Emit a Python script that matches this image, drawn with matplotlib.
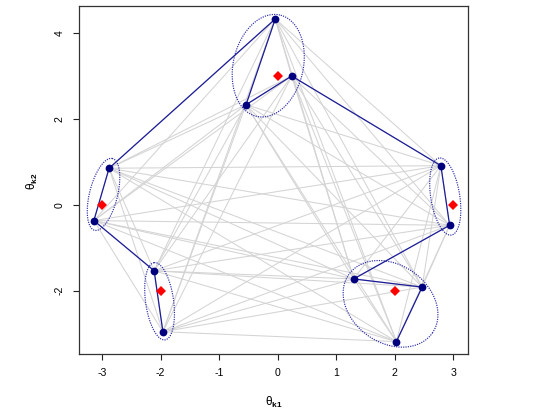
import itertools

import matplotlib
matplotlib.use("Agg")
import matplotlib.pyplot as plt
import numpy as np

plt.rcParams['font.family'] = ['Liberation Sans', 'DejaVu Sans']
plt.rcParams['axes.unicode_minus'] = False
plt.rcParams['mathtext.fontset'] = 'custom'
plt.rcParams['mathtext.rm'] = 'Liberation Sans'
plt.rcParams['mathtext.it'] = 'Liberation Sans:italic'
plt.rcParams['mathtext.bf'] = 'Liberation Sans:bold'

# latent positions of the 12 actors
node_x = [-0.04, 0.24, -0.54, 2.79, 2.94, 1.30, 2.47, 2.03, -2.11, -1.96, -2.88, -3.14]
node_y = [4.33, 3.00, 2.33, 0.91, -0.48, -1.73, -1.92, -3.19, -1.54, -2.96, 0.85, -0.37]

# path through the actors (blue edges)
path_order = [9, 8, 11, 10, 0, 2, 1, 3, 4, 5, 6, 7]

# cluster centres (red diamonds)
center_x = [0, 3, 2, -2, -3]
center_y = [3, 0, -2, -2, 0]

# cluster ellipses: centre in data units, semi-axes in pixels, tilt in degrees
ell_x = [-0.16, 2.865, 1.93, -2.017, -2.975]
ell_y = [3.24, 0.19, -2.31, -2.25, 0.24]
ell_a = [52, 39, 51, 39, 37]
ell_b = [35, 14.5, 39, 14, 14]
ell_ang = [77, 99, -35, 98, 76]

x_ticks = [-3, -2, -1, 0, 1, 2, 3]
y_ticks = [-2, 0, 2, 4]

fig = plt.figure(figsize=(5.54, 4.15), dpi=100)
ax = fig.add_axes([0.1435, 0.1458, 0.7004, 0.8397])

# R-style 4% padding around the data
all_x = np.array(node_x + center_x, dtype=float)
all_y = np.array(node_y + center_y, dtype=float)
rx = all_x.max() - all_x.min()
ry = all_y.max() - all_y.min()
ax.set_xlim(all_x.min() - 0.04 * rx, all_x.max() + 0.04 * rx)
ax.set_ylim(all_y.min() - 0.04 * ry, all_y.max() + 0.04 * ry)

# all pairs in light gray
for i, j in itertools.combinations(range(len(node_x)), 2):
    ax.plot([node_x[i], node_x[j]], [node_y[i], node_y[j]],
            color='#d4d4d4', linewidth=0.75, zorder=1, solid_capstyle='butt')

# ellipses drawn in pixel space so the tilt matches the picture
for cx, cy, a, b, ang in zip(ell_x, ell_y, ell_a, ell_b, ell_ang):
    t = np.linspace(0, 2 * np.pi, 300)
    c, s = np.cos(np.radians(ang)), np.sin(np.radians(ang))
    dx = a * np.cos(t) * c - b * np.sin(t) * s
    dy = a * np.cos(t) * s + b * np.sin(t) * c
    ctr = ax.transData.transform((cx, cy))
    pts = ctr + np.column_stack([dx, dy]) * fig.dpi / 100
    d = ax.transData.inverted().transform(pts)
    ax.plot(d[:, 0], d[:, 1], color='#2b2ba8', linewidth=0.85,
            linestyle=(0, (1.0, 1.0)), zorder=2)

px = [node_x[k] for k in path_order]
py = [node_y[k] for k in path_order]
ax.plot(px, py, color='#1c1c99', linewidth=0.9, zorder=3)

ax.plot(node_x, node_y, 'o', color='#00007f', markersize=5.6,
        markeredgewidth=0, zorder=4)
ax.plot(center_x, center_y, 'D', color='#ff0000', markersize=4.6,
        markeredgewidth=0, zorder=5)

ax.set_xticks(x_ticks)
ax.set_yticks(y_ticks)
ax.set_xticklabels([str(v) for v in x_ticks])
ax.set_yticklabels([str(v) for v in y_ticks], rotation=90, va='center')
ax.tick_params(axis='both', direction='out', length=4.5, width=0.8,
               labelsize=7.6, color='#222222')
ax.tick_params(axis='x', pad=5.0)
ax.tick_params(axis='y', pad=6.3)
for sp in ax.spines.values():
    sp.set_color('#333333')
    sp.set_linewidth(0.9)

fig.text(273.5 / 554, 1 - 402 / 415, r'$\mathrm{\theta}_{\mathbf{k1}}$',
         ha='center', va='center', fontsize=8.5)
fig.text(32 / 554, 1 - 181 / 415, r'$\mathrm{\theta}_{\mathbf{k2}}$',
         ha='center', va='center', fontsize=8.5, rotation=90)

fig.savefig('out.png', dpi=100, facecolor='white')
